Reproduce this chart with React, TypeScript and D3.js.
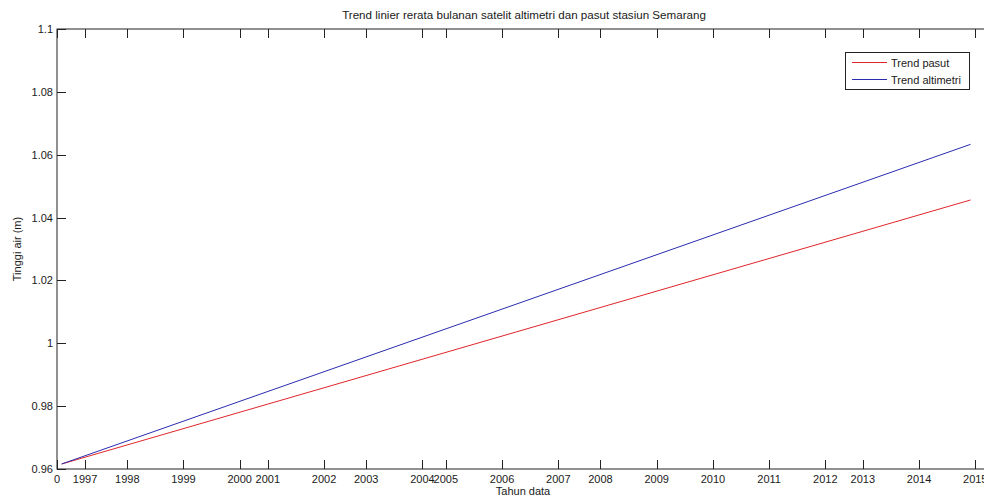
import React, {useEffect, useRef} from 'react'
import * as d3 from 'd3'

// data index (bulan ke-) of first and last point of the trend
const trendIndex = [1, 195]
const trendPasut = [0.9616, 1.0456]
const trendAltimetri = [0.9616, 1.0633]

// tick positions on the index axis and their year labels
const xTickPos = [0, 6, 15, 27, 39, 45, 57, 66, 78, 83, 95, 107, 116, 128, 140, 152, 164, 172, 184, 196]
const xTickLabels = ['0', '1997', '1998', '1999', '2000', '2001', '2002', '2003', '2004', '2005', '2006',
    '2007', '2008', '2009', '2010', '2011', '2012', '2013', '2014', '2015']
const yTicks = [0.96, 0.98, 1, 1.02, 1.04, 1.06, 1.08, 1.1]
const yTickLabels = ['0.96', '0.98', '1', '1.02', '1.04', '1.06', '1.08', '1.1']

const legendItems = ['Trend pasut', 'Trend altimetri']
const colors = ['#e0262a', '#2b2bb0']

const W = 984
const H = 499
const FONT = '"Liberation Sans", Arial, sans-serif'

export default function App() {
    const ref = useRef<SVGSVGElement>(null)

    useEffect(() => {
        const svg = d3.select(ref.current)
        svg.selectAll('*').remove()

        const left = 57, right = 994, top = 29, bottom = 469
        const x = d3.scaleLinear().domain([0, 200]).range([left, right])
        const y = d3.scaleLinear().domain([0.96, 1.1]).range([bottom, top])

        svg.append('rect').attr('width', W).attr('height', H).attr('fill', '#fff')

        const tl = 9
        const g = svg.append('g').attr('stroke', '#222').attr('stroke-width', 1)

        // box
        g.append('rect')
            .attr('x', left).attr('y', top)
            .attr('width', right - left).attr('height', bottom - top)
            .attr('fill', 'none')

        // x ticks (inward, top and bottom)
        xTickPos.forEach(v => {
            const px = Math.round(x(v)) + 0.5
            g.append('line').attr('x1', px).attr('x2', px).attr('y1', bottom).attr('y2', bottom - tl)
            g.append('line').attr('x1', px).attr('x2', px).attr('y1', top).attr('y2', top + tl)
        })
        yTicks.forEach(v => {
            const py = Math.round(y(v)) + 0.5
            g.append('line').attr('x1', left).attr('x2', left + tl).attr('y1', py).attr('y2', py)
            g.append('line').attr('x1', right).attr('x2', right - tl).attr('y1', py).attr('y2', py)
        })

        const txt = svg.append('g').attr('font-family', FONT).attr('font-size', 11).attr('fill', '#1a1a1a')

        xTickPos.forEach((v, i) => {
            txt.append('text')
                .attr('x', x(v)).attr('y', bottom + 14)
                .attr('text-anchor', 'middle')
                .text(xTickLabels[i])
        })
        yTicks.forEach((v, i) => {
            txt.append('text')
                .attr('x', left - 4).attr('y', y(v) + 4)
                .attr('text-anchor', 'end')
                .text(yTickLabels[i])
        })

        txt.append('text')
            .attr('x', 524).attr('y', 19)
            .attr('text-anchor', 'middle')
            .attr('font-size', 11.6)
            .text('Trend linier rerata bulanan satelit altimetri dan pasut stasiun Semarang')

        txt.append('text')
            .attr('x', 523).attr('y', 495)
            .attr('text-anchor', 'middle')
            .text('Tahun data')

        txt.append('text')
            .attr('transform', `translate(21,${(top + bottom) / 2}) rotate(-90)`)
            .attr('text-anchor', 'middle')
            .text('Tinggi air (m)')

        // trend lines
        const line = d3.line<number>()
            .x((_, i) => x(trendIndex[i]))
            .y(d => y(d))

        ;[trendPasut, trendAltimetri].forEach((s, i) => {
            svg.append('path')
                .attr('d', line(s))
                .attr('fill', 'none')
                .attr('stroke', colors[i])
                .attr('stroke-width', 1)
        })

        // legend
        const lg = svg.append('g')
        lg.append('rect')
            .attr('x', 845.5).attr('y', 52.5)
            .attr('width', 124).attr('height', 37)
            .attr('fill', '#fff').attr('stroke', '#222')
        legendItems.forEach((name, i) => {
            const ly = 62.5 + i * 17
            lg.append('line')
                .attr('x1', 852).attr('x2', 887)
                .attr('y1', ly).attr('y2', ly)
                .attr('stroke', colors[i])
            lg.append('text')
                .attr('x', 891).attr('y', ly + 4)
                .attr('font-family', FONT).attr('font-size', 11).attr('fill', '#1a1a1a')
                .text(name)
        })
    }, [])

    return (
        <svg ref={ref} width={W} height={H} style={{position: 'absolute', left: 0, top: 0, display: 'block'}}/>
    )
}
